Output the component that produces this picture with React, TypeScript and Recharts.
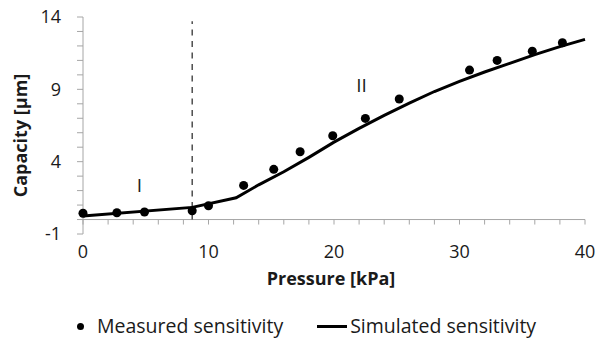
import React from 'react';
import {
  ComposedChart,
  Line,
  Scatter,
  XAxis,
  YAxis,
  ReferenceLine,
  Legend,
  Label,
} from 'recharts';

// Measured sensitivity (pressure kPa -> capacity µm)
const measuredX = [0, 2.7, 4.9, 8.7, 10.0, 12.8, 15.2, 17.3, 19.9, 22.5, 25.2, 30.8, 33.0, 35.8, 38.2];
const measuredY = [0.43, 0.47, 0.52, 0.61, 0.95, 2.36, 3.47, 4.69, 5.79, 6.99, 8.33, 10.33, 11.0, 11.64, 12.22];

// Simulated sensitivity
const simX = [0, 8.7, 12.2, 14, 16, 18, 20, 22, 24, 26, 28, 30, 32, 34, 36, 38, 40];
const simY = [0.24, 0.84, 1.5, 2.4, 3.3, 4.3, 5.35, 6.3, 7.2, 8.05, 8.85, 9.55, 10.2, 10.8, 11.4, 11.95, 12.45];

// Axis ticks
const xTickLabels = [0, 10, 20, 30, 40];
const xMinorTicks = [0, 2, 4, 6, 8, 10, 12, 14, 16, 18, 20, 22, 24, 26, 28, 30, 32, 34, 36, 38, 40];
const yTicks = [-1, 0, 1, 2, 3, 4, 5, 6, 7, 8, 9, 10, 11, 12, 13, 14];
const yTickLabels = [-1, 4, 9, 14];

// Region boundary and annotations
const boundaryX = 8.7;
const boundaryTop = 13.7;
const regionLabels = ['I', 'II'];
const regionX = [4.5, 22.2];
const regionY = [2.4, 9.3];

const measured = measuredX.map((x, i) => ({ x, y: measuredY[i] }));
const simulated = simX.map((x, i) => ({ x, y: simY[i] }));
const minorTickData = xMinorTicks.map((x) => ({ x, y: 0 }));
const annotations = regionLabels.map((label, i) => ({ x: regionX[i], y: regionY[i], label }));

const FONT = '"Open Sans", sans-serif';
const AXIS_COLOR = '#a6a6a6';
const TEXT_COLOR = '#1a1a1a';

const MinorTick = (props: any) => {
  const { cx, cy } = props;
  return <line x1={cx} x2={cx} y1={cy} y2={cy + 5} stroke={AXIS_COLOR} strokeWidth={1} />;
};

const Annotation = (props: any) => {
  const { cx, cy, payload } = props;
  return (
    <text
      x={cx}
      y={cy}
      textAnchor="middle"
      dominantBaseline="central"
      fontFamily={FONT}
      fontSize={19}
      fill={TEXT_COLOR}
    >
      {payload.label}
    </text>
  );
};

const YTitle = (props: any) => {
  const vb = props.viewBox || { x: 23, y: 17, width: 60, height: 217 };
  const X = vb.x + 4;
  const Y = vb.y + vb.height / 2 + 10;
  return (
    <text
      x={X}
      y={Y}
      transform={`rotate(-90, ${X}, ${Y})`}
      textAnchor="middle"
      fontFamily={FONT}
      fontWeight="bold"
      fontSize={18}
      fill={TEXT_COLOR}
    >
      Capacity [µm]
    </text>
  );
};

const XTitle = (props: any) => {
  const vb = props.viewBox || { x: 83, y: 234, width: 502, height: 60 };
  const X = vb.x + vb.width / 2 - 3;
  const Y = vb.y + 51;
  return (
    <text x={X} y={Y} textAnchor="middle" fontFamily={FONT} fontWeight="bold" fontSize={18} fill={TEXT_COLOR}>
      Pressure [kPa]
    </text>
  );
};

const LegendContent = () => (
  <div
    style={{
      display: 'flex',
      alignItems: 'center',
      fontFamily: FONT,
      fontSize: 19.5,
      color: TEXT_COLOR,
      height: 24,
      lineHeight: '24px',
      whiteSpace: 'nowrap',
    }}
  >
    <span
      style={{
        display: 'inline-block',
        width: 7,
        height: 7,
        borderRadius: '50%',
        background: '#000',
        marginLeft: 77,
        marginRight: 13,
      }}
    />
    <span>Measured sensitivity</span>
    <span
      style={{
        display: 'inline-block',
        width: 30,
        height: 3,
        background: '#000',
        marginLeft: 34,
        marginRight: 3,
      }}
    />
    <span>Simulated sensitivity</span>
  </div>
);

export default function App() {
  return (
    <div style={{ width: 598, height: 338, background: '#fff', position: 'relative' }}>
      <style>{'body{margin:0;}'}</style>
      <ComposedChart width={598} height={338} margin={{ top: 17, right: 13, left: 23, bottom: 44 }}>
        <XAxis
          type="number"
          dataKey="x"
          domain={[0, 40]}
          ticks={xTickLabels}
          axisLine={false}
          tickLine={false}
          tickSize={0}
          tickMargin={11}
          height={60}
          interval={0}
          tick={{ fontFamily: FONT, fontSize: 18, fill: TEXT_COLOR }}
        >
          <Label content={<XTitle />} />
        </XAxis>
        <YAxis
          type="number"
          domain={[-1, 14]}
          ticks={yTicks}
          interval={0}
          width={60}
          tickSize={6}
          tickMargin={16}
          axisLine={{ stroke: AXIS_COLOR }}
          tickLine={{ stroke: AXIS_COLOR }}
          tickFormatter={(v: number) => (yTickLabels.includes(v) ? String(v) : '')}
          tick={{ fontFamily: FONT, fontSize: 18, fill: TEXT_COLOR }}
        >
          <Label content={<YTitle />} />
        </YAxis>
        <ReferenceLine y={0} stroke={AXIS_COLOR} strokeWidth={1} />
        <Scatter
          data={minorTickData}
          dataKey="y"
          shape={<MinorTick />}
          isAnimationActive={false}
          legendType="none"
        />
        <ReferenceLine
          segment={[
            { x: boundaryX, y: 0 },
            { x: boundaryX, y: boundaryTop },
          ]}
          stroke="#333"
          strokeWidth={1.3}
          strokeDasharray="6 5.5"
        />
        <Line
          data={simulated}
          dataKey="y"
          type="linear"
          stroke="#000"
          strokeWidth={3}
          dot={false}
          activeDot={false}
          isAnimationActive={false}
        />
        <Scatter
          data={measured}
          dataKey="y"
          fill="#000"
          shape="circle"
          isAnimationActive={false}
        />
        <Scatter
          data={annotations}
          dataKey="y"
          shape={<Annotation />}
          isAnimationActive={false}
          legendType="none"
        />
        <Legend
          layout="horizontal"
          verticalAlign="middle"
          align="center"
          content={<LegendContent />}
          wrapperStyle={{ top: 314, left: 0, width: 598 }}
        />
      </ComposedChart>
    </div>
  );
}
